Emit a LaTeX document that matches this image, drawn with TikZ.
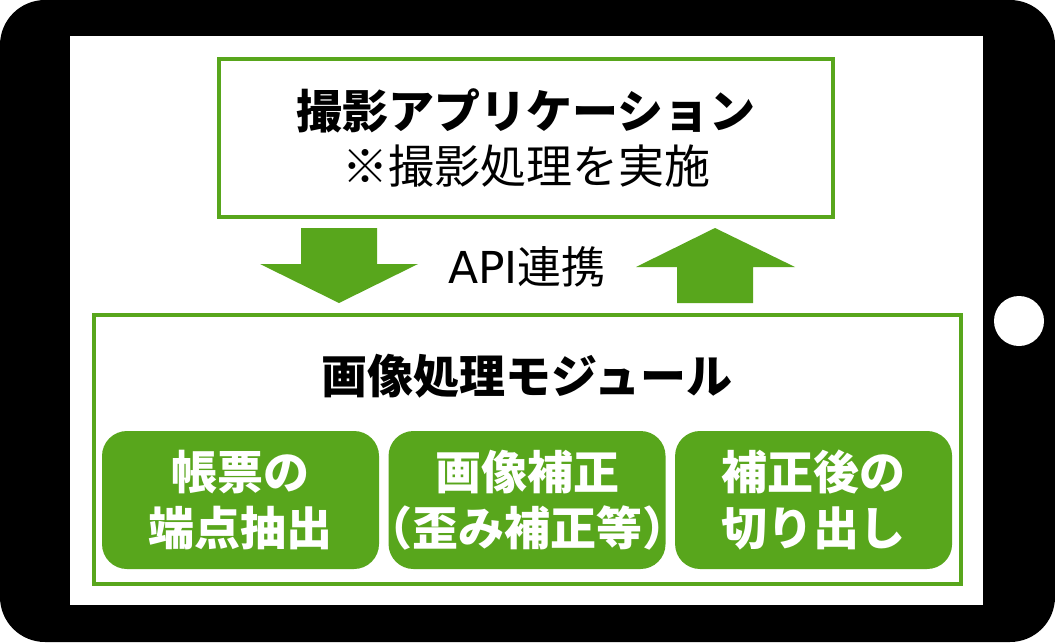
\documentclass[tikz,border=0pt]{standalone}
\usepackage{fontspec}
\setmainfont{Noto Sans CJK JP}
\newfontfamily\apifont{DejaVu Sans}
\usetikzlibrary{positioning}
\definecolor{module-green}{RGB}{88,166,28}

\begin{document}
\begin{tikzpicture}[x=0.75pt,y=-0.75pt,
 frame/.style={draw=module-green, line width=3pt, fill=white, inner sep=0},
 func/.style={fill=module-green, rounded corners=18.75pt, minimum width=207.75pt, minimum height=103.5pt,
   inner sep=0, text=white, align=center, font=\fontsize{34.5}{42}\selectfont\bfseries},
 bigarrow/.style={fill=module-green},
 title/.style={font=\fontsize{34.5}{41}\selectfont\bfseries},
]
 \useasboundingbox (0,0) rectangle (1055,642);
 %
 \fill[black, rounded corners=33.75pt] (0,0) rectangle (1055,642);
 \fill[white] (70,36) rectangle (983,605);
 \fill[white] (1019,321) circle [radius=18.75pt];

 %
 \node[frame, minimum width=460.5pt, minimum height=118.5pt, align=center,
   font=\fontsize{34.5}{41}\selectfont] (app) at (526,138) {\textbf{撮影アプリケーション}\\※撮影処理を実施};

 %
 \fill[bigarrow] (301,228) -- (377,228) -- (377,264) -- (418,264) -- (339,303) -- (260,264) -- (301,264) -- cycle;
 \fill[bigarrow] (715,228) -- (795,267) -- (753,267) -- (753,303) -- (677,303) -- (677,267) -- (636,267) -- cycle;
 \node[font=\fontsize{33}{38}\selectfont] (api) at (527,267) {{\apifont API}連携};

 %
 \node[frame, minimum width=650.25pt, minimum height=201.75pt] (module) at (527.5,449.5) {};
 \node[title] (moduletitle) at (527,376) {画像処理モジュール};

 \node[func] (corner) at (240.5,500) {帳票の\\端点抽出};
 \node[func, right=6.75pt of corner] (correct) {画像補正\\{\addfontfeature{RawFeature=+halt}（}歪み補正等{\addfontfeature{RawFeature=+halt}）}};
 \node[func, right=6.75pt of correct] (crop) {補正後の\\切り出し};
\end{tikzpicture}
\end{document}
